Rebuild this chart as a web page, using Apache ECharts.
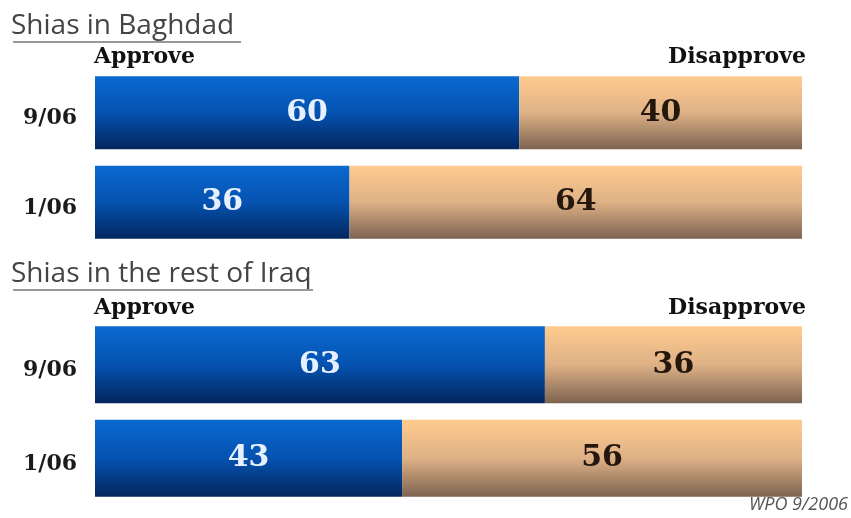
<!DOCTYPE html>
<html><head><meta charset="utf-8">
<script src="https://cdn.jsdelivr.net/npm/echarts@6/dist/echarts.min.js"></script>
<style>html,body{margin:0;padding:0;background:#fff}#c{width:851px;height:518px}</style>
</head><body><div id="c"></div>
<script>
var categories = ['9/06', '1/06'];
var panelTitles = ['Shias in Baghdad', 'Shias in the rest of Iraq'];
var seriesNames = ['Approve', 'Disapprove'];
var baghdadApprove = [60, 36];
var baghdadDisapprove = [40, 64];
var restApprove = [63, 43];
var restDisapprove = [36, 56];
var sourceNote = 'WPO 9/2006';

var chart = echarts.init(document.getElementById('c'), null, {renderer: 'canvas'});
var serif = '"DejaVu Serif", "Liberation Serif", serif';
var blue = new echarts.graphic.LinearGradient(0, 0, 0, 1, [
  {offset: 0, color: '#0a69d0'}, {offset: 0.5, color: '#0552b0'}, {offset: 1, color: '#03265e'}]);
var tan = new echarts.graphic.LinearGradient(0, 0, 0, 1, [
  {offset: 0, color: '#ffcb8e'}, {offset: 0.5, color: '#deb186'}, {offset: 1, color: '#7d6350'}]);

function share(a, b) { return a.map(function (v, i) { return v / (v + b[i]) * 100; }); }
function mkData(vals, other) {
  var s = share(vals, other);
  return vals.map(function (v, i) { return {value: s[i], raw: v}; });
}
var panels = [[baghdadApprove, baghdadDisapprove], [restApprove, restDisapprove]];
var grids = [{left: 95, right: 49, top: 68, height: 179}, {left: 95, right: 49, top: 318, height: 187}];
var barW = [73, 77];

var series = [];
panels.forEach(function (p, gi) {
  series.push({
    name: seriesNames[0], type: 'bar', stack: 's' + gi, xAxisIndex: gi, yAxisIndex: gi,
    barWidth: barW[gi], data: mkData(p[0], p[1]),
    itemStyle: {color: blue},
    label: {show: true, position: 'inside', formatter: function (d) { return d.data.raw; },
      color: '#e6f0ff', fontFamily: serif, fontWeight: 'bold', fontSize: 30}
  });
  series.push({
    name: seriesNames[1], type: 'bar', stack: 's' + gi, xAxisIndex: gi, yAxisIndex: gi,
    barWidth: barW[gi], data: mkData(p[1], p[0]),
    itemStyle: {color: tan},
    label: {show: true, position: 'inside', formatter: function (d) { return d.data.raw; },
      color: '#24170e', fontFamily: serif, fontWeight: 'bold', fontSize: 30}
  });
});

var titleFont = {fontFamily: '"Open Sans", "DejaVu Sans", sans-serif', fontSize: 28, fontWeight: 'normal', color: '#444'};
var hdrFont = {fontFamily: serif, fontSize: 22, fontWeight: 'bold', color: '#111'};

chart.setOption({
  animation: false,
  title: [
    {text: panelTitles[0], left: 11, top: 12, padding: 0, textStyle: titleFont},
    {text: panelTitles[1], left: 11, top: 260, padding: 0, textStyle: titleFont},
    {text: seriesNames[0], left: 94, top: 46, padding: 0, textStyle: hdrFont},
    {text: seriesNames[1], right: 45, top: 46, padding: 0, textStyle: hdrFont},
    {text: seriesNames[0], left: 94, top: 297, padding: 0, textStyle: hdrFont},
    {text: seriesNames[1], right: 45, top: 297, padding: 0, textStyle: hdrFont},
    {text: sourceNote, right: 3, top: 496, padding: 0, textStyle: {fontFamily: '"Open Sans", sans-serif', fontStyle: 'italic', fontWeight: 'normal', fontSize: 18, color: '#555'}}
  ],
  graphic: [
    {type: 'line', shape: {x1: 13, y1: 42, x2: 241, y2: 42}, style: {stroke: '#777', lineWidth: 1.5}},
    {type: 'line', shape: {x1: 13, y1: 290, x2: 313, y2: 290}, style: {stroke: '#777', lineWidth: 1.5}}
  ],
  grid: grids,
  xAxis: [0, 1].map(function (i) { return {type: 'value', gridIndex: i, min: 0, max: 100, show: false}; }),
  yAxis: [0, 1].map(function (i) {
    return {type: 'category', gridIndex: i, data: categories, inverse: true,
      axisLine: {show: false}, axisTick: {show: false},
      axisLabel: {margin: 18, formatter: '{a|{value}}',
        rich: {a: {padding: [12, 0, 0, 0], color: '#1a1a1a', fontFamily: serif, fontWeight: 'bold', fontSize: 22}}}};
  }),
  series: series
});
</script></body></html>
